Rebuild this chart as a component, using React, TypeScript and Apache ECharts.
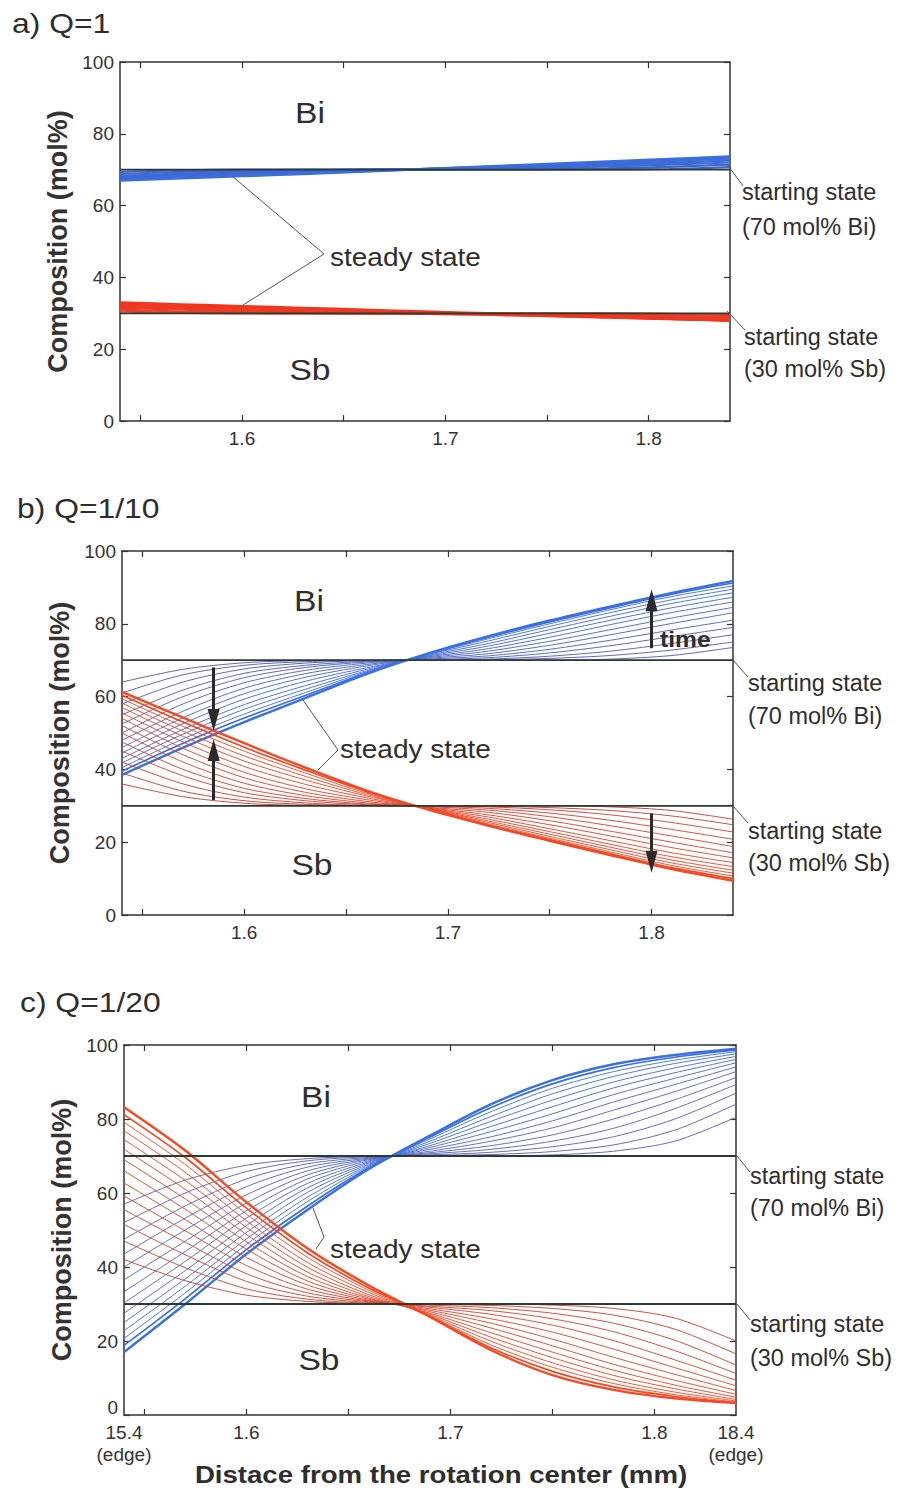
import React, { useEffect, useRef } from "react";
import * as echarts from "echarts";

// ---------- data ----------
const X = [1.54, 1.57, 1.6, 1.63, 1.66, 1.69, 1.72, 1.75, 1.78, 1.81, 1.84];
const START_X = [1.54, 1.84];
const START_BI = [70, 70];
const START_SB = [30, 30];

const X_TICKS = [1.55, 1.6, 1.65, 1.7, 1.75, 1.8];
const X_LABEL_VALUES = [1.6, 1.7, 1.8];
const X_LABEL_TEXTS = ["1.6", "1.7", "1.8"];
const X_LABEL_VALUES_C = [1.54, 1.6, 1.7, 1.8, 1.84];
const X_LABEL_TEXTS_C = ["15.4\n(edge)", "1.6", "1.7", "1.8", "18.4\n(edge)"];

const PANEL_TITLES = ["a) Q=1", "b) Q=1/10", "c) Q=1/20"];

// Q = 1
const BI_A = [
  [69.4, 69.85, 70, 70, 70, 70, 70, 70, 70.05, 70.2, 70.7],
  [68.8, 69.4, 69.8, 69.95, 70, 70, 70.05, 70.2, 70.4, 70.8, 71.4],
  [68.3, 68.9, 69.4, 69.8, 70, 70.15, 70.3, 70.5, 70.9, 71.4, 72],
  [67.9, 68.5, 69, 69.5, 69.9, 70.2, 70.5, 70.9, 71.4, 71.9, 72.6],
  [67.5, 68.1, 68.7, 69.2, 69.7, 70.2, 70.7, 71.2, 71.8, 72.4, 73.1],
  [67.2, 67.8, 68.4, 69, 69.6, 70.2, 70.8, 71.4, 72.1, 72.7, 73.4],
  [67, 67.6, 68.2, 68.8, 69.5, 70.2, 70.9, 71.6, 72.3, 73, 73.7],
];
const SB_A = [
  [30.5, 30.1, 30, 30, 30, 30, 30, 30, 29.97, 29.85, 29.5],
  [31, 30.5, 30.15, 30.03, 30, 30, 29.97, 29.85, 29.7, 29.4, 29],
  [31.5, 31, 30.5, 30.2, 30.03, 29.9, 29.8, 29.6, 29.35, 29, 28.6],
  [31.9, 31.4, 30.9, 30.5, 30.1, 29.85, 29.6, 29.3, 29, 28.6, 28.3],
  [32.3, 31.8, 31.3, 30.8, 30.4, 30, 29.6, 29.2, 28.8, 28.4, 28.1],
  [32.7, 32.2, 31.7, 31.2, 30.7, 30.25, 29.8, 29.35, 28.9, 28.45, 28],
  [33, 32.5, 32, 31.5, 31, 30.5, 30, 29.5, 29, 28.5, 27.9],
];

// Q = 1/10
const BI_B = [
  [64, 67.5, 69.3, 69.9, 70, 70, 70, 70, 70.3, 71.3, 73.5],
  [61, 66, 68.6, 69.6, 69.95, 70, 70.1, 70.5, 71.3, 72.8, 75],
  [58, 64, 67.6, 69.2, 69.9, 70, 70.3, 71.1, 72.5, 74.6, 77],
  [55, 61.8, 66.4, 68.6, 69.7, 70.1, 70.7, 72, 74, 76.5, 79],
  [52.5, 60, 65.2, 68, 69.5, 70.3, 71.2, 73, 75.5, 78.3, 81],
  [50, 58, 63.8, 67.2, 69.2, 70.5, 71.8, 74.1, 77, 80.1, 83],
  [48, 56, 62.3, 66.3, 68.8, 70.7, 72.5, 75.2, 78.4, 81.6, 84.5],
  [46, 54.2, 60.8, 65.3, 68.4, 70.9, 73.2, 76.3, 79.8, 83.1, 86],
  [44.5, 52.6, 59.3, 64.2, 67.9, 71.1, 73.9, 77.4, 81, 84.4, 87.3],
  [43, 51, 57.8, 63, 67.5, 71.3, 74.6, 78.4, 82.1, 85.6, 88.5],
  [41.8, 49.7, 56.5, 62, 67.1, 71.5, 75.3, 79.3, 83.1, 86.6, 89.5],
  [40.5, 48.4, 55.2, 61.1, 66.8, 71.6, 75.9, 80, 83.9, 87.5, 90.4],
  [39.5, 47.2, 54.1, 60.3, 66.5, 71.7, 76.3, 80.5, 84.4, 88.1, 91.2],
  [38.5, 46, 53, 59.6, 66.2, 71.8, 76.6, 80.9, 84.8, 88.5, 91.8],
];
const SB_B = [
  [36, 32.5, 30.7, 30.1, 30, 30, 30, 30, 29.7, 28.7, 26.3],
  [39, 34, 31.4, 30.4, 30.05, 30, 29.9, 29.5, 28.7, 27.2, 24.8],
  [42, 36, 32.4, 30.8, 30.1, 30, 29.7, 28.9, 27.5, 25.4, 22.8],
  [45, 38.2, 33.6, 31.4, 30.3, 29.9, 29.3, 28, 26, 23.5, 20.8],
  [47.5, 40, 34.8, 32, 30.5, 29.8, 28.8, 27, 24.5, 21.7, 18.8],
  [50, 42, 36.2, 32.8, 30.8, 29.6, 28.2, 25.9, 23, 20, 17.1],
  [52, 44, 37.7, 33.7, 31.2, 29.5, 27.5, 24.8, 21.7, 18.5, 15.7],
  [54, 45.8, 39.2, 34.7, 31.7, 29.4, 26.9, 23.7, 20.4, 17.1, 14.4],
  [55.5, 47.5, 40.8, 35.9, 32.2, 29.3, 26.3, 22.9, 19.4, 16, 13.3],
  [57, 49.1, 42.3, 37.1, 32.7, 29.3, 25.8, 22.2, 18.6, 15.1, 12.3],
  [58.2, 50.5, 43.7, 38.1, 33.1, 29.2, 25.4, 21.6, 17.9, 14.3, 11.5],
  [59.4, 51.8, 45, 39, 33.5, 29.2, 25, 21.1, 17.3, 13.6, 10.7],
  [60.4, 53, 46.1, 39.8, 33.9, 29.1, 24.7, 20.7, 16.8, 13, 10],
  [61.3, 54.2, 47.2, 40.5, 34.2, 29, 24.5, 20.4, 16.4, 12.6, 9.4],
];

// Q = 1/20
const BI_C = [
  [57, 63.5, 67.5, 69.3, 69.9, 70, 70, 70.3, 71.3, 74, 80.5],
  [52, 60, 65.8, 68.7, 69.8, 70.1, 70.4, 71.2, 73, 77, 84],
  [47.5, 56.5, 63.8, 67.9, 69.6, 70.3, 71, 72.5, 75.2, 80, 87],
  [43.5, 53.2, 61.7, 67, 69.4, 70.6, 71.8, 74, 77.5, 82.8, 89.3],
  [40, 50, 59.5, 66, 69.2, 70.9, 72.8, 75.7, 80, 85.2, 91.2],
  [36.5, 47, 57.3, 64.9, 69, 71.3, 74, 77.6, 82.4, 87.4, 92.8],
  [33.3, 44.2, 55.2, 63.8, 68.7, 71.8, 75.2, 79.5, 84.6, 89.3, 94.1],
  [30.3, 41.5, 53.2, 62.6, 68.4, 72.3, 76.6, 81.4, 86.6, 91, 95.2],
  [27.5, 39, 51.2, 61.4, 68.1, 72.8, 78, 83.3, 88.4, 92.5, 96.1],
  [25, 36.8, 49.3, 60.2, 67.8, 73.4, 79.4, 85.1, 90, 93.8, 96.9],
  [22.8, 34.8, 47.6, 58.9, 67.5, 74, 80.7, 86.8, 91.5, 95, 97.6],
  [20.7, 33, 46.1, 57.7, 67.2, 74.6, 82, 88.3, 92.8, 95.9, 98.2],
  [18.8, 31.4, 44.7, 56.5, 66.8, 75.1, 83.1, 89.5, 93.9, 96.7, 98.7],
  [17, 30, 43.5, 55.5, 66.5, 75.5, 84, 90.5, 94.8, 97.3, 99],
];
const SB_C = [
  [42, 36.3, 32.4, 30.7, 30.1, 30, 30, 29.7, 28.8, 26.2, 20],
  [47, 39.8, 34.1, 31.3, 30.2, 29.9, 29.6, 28.8, 27, 23.2, 16.5],
  [51.5, 43.3, 36.1, 32.1, 30.4, 29.7, 29, 27.5, 24.8, 20.2, 13.5],
  [55.5, 46.7, 38.2, 33, 30.6, 29.4, 28.2, 26, 22.5, 17.4, 11.2],
  [59.2, 49.8, 40.4, 34, 30.8, 29.1, 27.2, 24.3, 20.1, 14.9, 9.4],
  [62.7, 52.8, 42.6, 35.1, 31, 28.7, 26, 22.4, 17.8, 12.8, 7.9],
  [66, 55.6, 44.8, 36.2, 31.3, 28.3, 24.8, 20.5, 15.6, 11, 6.6],
  [69, 58.4, 46.8, 37.4, 31.6, 27.9, 23.5, 18.7, 13.7, 9.4, 5.6],
  [71.8, 61, 48.8, 38.6, 32, 27.5, 22.2, 17, 12.1, 8.1, 4.8],
  [74.4, 63.4, 50.7, 39.9, 32.5, 27.2, 21, 15.5, 10.7, 7.1, 4.2],
  [76.8, 65.6, 52.5, 41.2, 33.1, 26.9, 19.9, 14.1, 9.5, 6.2, 3.8],
  [79.1, 67.7, 54.3, 42.6, 33.7, 26.7, 18.9, 12.9, 8.5, 5.5, 3.5],
  [81.2, 69.6, 55.9, 43.8, 34.3, 26.6, 18.1, 11.8, 7.6, 5, 3.3],
  [83.2, 71.5, 57.5, 45, 35, 26.5, 17.5, 10.8, 6.8, 4.5, 3.2],
];

// arrows in panel b: [x, from, to(tip)]
const ARROWS_B = [
  [1.585, 68, 53.6],
  [1.585, 31.6, 45.3],
  [1.8, 73.3, 86.5],
  [1.8, 27.9, 14.6],
];

// ---------- styling helpers ----------
const FONT = '"Liberation Sans", Arial, Helvetica, sans-serif';
const INK = "#2e2e2e";
const AXIS = "#333";

function hex(c: string) {
  return [1, 3, 5].map((i) => parseInt(c.slice(i, i + 2), 16));
}
function mix(a: string, b: string, t: number) {
  const A = hex(a);
  const B = hex(b);
  const r = A.map((v, i) => Math.round(v + (B[i] - v) * t));
  return "#" + r.map((v) => v.toString(16).padStart(2, "0")).join("");
}

const GRIDS = [
  { left: 120, top: 62, width: 610, height: 359 },
  { left: 122, top: 551, width: 611, height: 364 },
  { left: 124, top: 1045, width: 612, height: 370 },
];

const PANELS = [
  { bi: BI_A, sb: SB_A, w: 2.2, last: 2.4, blue: ["#3e66cc", "#3a6ede"], red: ["#e8402a", "#f0361f"] },
  { bi: BI_B, sb: SB_B, w: 0.9, last: 2.4, blue: ["#4f55a6", "#3a70e2"], red: ["#bf3a2e", "#f44a24"] },
  { bi: BI_C, sb: SB_C, w: 0.9, last: 2.4, blue: ["#5a5cac", "#3a70e2"], red: ["#c0402f", "#f84a22"] },
];

function makeAxes(i: number) {
  const axisLine = { show: true, onZero: false, lineStyle: { color: AXIS, width: 1.5 } };
  const tick = { show: true, inside: true, length: 6, lineStyle: { color: AXIS, width: 1.2 } };
  const vals = i === 2 ? X_LABEL_VALUES_C : X_LABEL_VALUES;
  const texts = i === 2 ? X_LABEL_TEXTS_C : X_LABEL_TEXTS;
  const xb: any = {
    type: "value",
    gridIndex: i,
    position: "bottom",
    min: 1.54,
    max: 1.84,
    axisLine,
    splitLine: { show: false },
    axisTick: { ...tick, customValues: X_TICKS },
    axisLabel: {
      show: true,
      customValues: vals,
      formatter: (v: number) => {
        const k = vals.findIndex((u) => Math.abs(u - v) < 1e-6);
        return k >= 0 ? texts[k] : "";
      },
      fontSize: 19,
      lineHeight: 22,
      color: AXIS,
      margin: 6,
      fontFamily: FONT,
    },
  };
  const xt: any = {
    ...xb,
    position: "top",
    axisLabel: { show: false },
  };
  const yl: any = {
    type: "value",
    gridIndex: i,
    position: "left",
    min: 0,
    max: 100,
    interval: 20,
    axisLine,
    splitLine: { show: false },
    axisTick: tick,
    axisLabel: {
      show: true,
      fontSize: 19,
      color: AXIS,
      margin: 6,
      fontFamily: FONT,
      formatter: (v: number) => (i === 2 && v === 0 ? "{z|0}" : String(v)),
      rich: { z: { fontSize: 19, color: AXIS, fontFamily: FONT, padding: [0, 0, 16, 0] } },
    },
    name: "Composition (mol%)",
    nameLocation: "middle",
    nameRotate: 90,
    nameGap: 48,
    nameTextStyle: { fontSize: 27, fontWeight: "bold", color: AXIS, fontFamily: FONT },
  };
  const yr: any = {
    ...yl,
    position: "right",
    axisLabel: { show: false },
    name: "",
  };
  return { x: [xb, xt], y: [yl, yr] };
}

function familySeries(curves: number[][], i: number, c0: string, c1: string, w: number, last: number, z: number) {
  const n = curves.length;
  return curves.map((ys, k) => ({
    type: "line",
    xAxisIndex: i * 2,
    yAxisIndex: i * 2,
    data: X.map((x, j) => [x, ys[j]]),
    showSymbol: false,
    symbol: "none",
    smooth: 0.3,
    silent: true,
    z,
    lineStyle: {
      color: mix(c0, c1, n > 1 ? k / (n - 1) : 1),
      width: k === n - 1 ? last : k === n - 2 ? (w + last) / 2 : w,
    },
    emphasis: { disabled: true },
  }));
}

function startSeries(i: number, ys: number[], withArrows: boolean) {
  const s: any = {
    type: "line",
    xAxisIndex: i * 2,
    yAxisIndex: i * 2,
    data: START_X.map((x, j) => [x, ys[j]]),
    showSymbol: false,
    symbol: "none",
    silent: true,
    z: 5,
    lineStyle: { color: "#2c3a33", width: 1.8 },
    emphasis: { disabled: true },
  };
  if (withArrows) {
    s.markLine = {
      silent: true,
      symbol: ["none", "triangle"],
      symbolSize: [12, 22],
      label: { show: false },
      emphasis: { disabled: true },
      lineStyle: { color: "#2a2a2a", width: 3, type: "solid" },
      data: ARROWS_B.map((a) => [{ coord: [a[0], a[1]] }, { coord: [a[0], a[2]] }]),
    };
  }
  return s;
}

function text(t: string, x: number, y: number, size: number, opt: any = {}) {
  return {
    type: "text",
    x,
    y,
    scaleX: opt.sx ?? 1,
    silent: true,
    z: 10,
    style: {
      text: t,
      fill: INK,
      font: `${opt.bold ? "bold " : ""}${size}px ${FONT}`,
      align: opt.align ?? "left",
      verticalAlign: "middle",
    },
  };
}
function poly(points: number[][]) {
  return {
    type: "polyline",
    silent: true,
    z: 10,
    shape: { points },
    style: { stroke: "#555", lineWidth: 1, fill: null },
  };
}

function buildOption() {
  const xAxis: any[] = [];
  const yAxis: any[] = [];
  const series: any[] = [];
  GRIDS.forEach((_, i) => {
    const ax = makeAxes(i);
    xAxis.push(...ax.x);
    yAxis.push(...ax.y);
    const p = PANELS[i];
    series.push(...familySeries(p.bi, i, p.blue[0], p.blue[1], p.w, p.last, 2));
    series.push(...familySeries(p.sb, i, p.red[0], p.red[1], p.w, p.last, 3));
    series.push(startSeries(i, START_BI, false));
    series.push(startSeries(i, START_SB, i === 1));
  });

  const graphic: any[] = [
    // titles
    text(PANEL_TITLES[0], 12, 23, 27, { sx: 1.18 }),
    text(PANEL_TITLES[1], 17, 508, 27, { sx: 1.18 }),
    text(PANEL_TITLES[2], 20, 1002, 27, { sx: 1.18 }),
    // panel a
    text("Bi", 310, 113, 30, { align: "center", sx: 1.12 }),
    text("Sb", 310, 370, 30, { align: "center", sx: 1.12 }),
    text("steady state", 330, 258, 25, { sx: 1.12 }),
    poly([[232, 176], [324, 254], [243, 305]]),
    text("starting state", 742, 192, 23, { sx: 1.02 }),
    text("(70 mol% Bi)", 742, 227, 23, { sx: 1.02 }),
    text("starting state", 744, 337, 23, { sx: 1.02 }),
    text("(30 mol% Sb)", 744, 369, 23, { sx: 1.02 }),
    poly([[727, 164], [743, 186]]),
    poly([[727, 311], [745, 330]]),
    // panel b
    text("Bi", 309, 601, 30, { align: "center", sx: 1.12 }),
    text("Sb", 312, 865, 30, { align: "center", sx: 1.12 }),
    text("steady state", 340, 750, 25, { sx: 1.12 }),
    poly([[303, 700], [338, 750], [318, 770]]),
    text("time", 660, 639, 22, { bold: true, sx: 1.12 }),
    text("starting state", 748, 683, 23, { sx: 1.02 }),
    text("(70 mol% Bi)", 748, 716, 23, { sx: 1.02 }),
    text("starting state", 748, 831, 23, { sx: 1.02 }),
    text("(30 mol% Sb)", 748, 863, 23, { sx: 1.02 }),
    poly([[733, 660], [748, 677]]),
    poly([[733, 806], [748, 823]]),
    // panel c
    text("Bi", 316, 1097, 30, { align: "center", sx: 1.12 }),
    text("Sb", 319, 1360, 30, { align: "center", sx: 1.12 }),
    text("steady state", 330, 1250, 25, { sx: 1.12 }),
    poly([[313, 1208], [324, 1237], [316, 1249]]),
    text("starting state", 750, 1176, 23, { sx: 1.02 }),
    text("(70 mol% Bi)", 750, 1208, 23, { sx: 1.02 }),
    text("starting state", 750, 1324, 23, { sx: 1.02 }),
    text("(30 mol% Sb)", 750, 1358, 23, { sx: 1.02 }),
    poly([[737, 1156], [750, 1172]]),
    poly([[737, 1304], [750, 1320]]),
    // x axis title
    text("Distace from the rotation center (mm)", 441, 1475, 24, { bold: true, align: "center", sx: 1.15 }),
  ];

  return {
    animation: false,
    backgroundColor: "#ffffff",
    textStyle: { fontFamily: FONT },
    grid: GRIDS.map((g) => ({ ...g, containLabel: false })),
    xAxis,
    yAxis,
    series,
    graphic,
  };
}

export default function App() {
  const ref = useRef<HTMLDivElement>(null);
  useEffect(() => {
    if (!ref.current) return;
    const chart = echarts.init(ref.current, undefined, { renderer: "svg" });
    chart.setOption(buildOption() as any);
    return () => chart.dispose();
  }, []);
  return (
    <div
      ref={ref}
      style={{ position: "absolute", left: 0, top: 0, width: 897, height: 1491, background: "#fff" }}
    />
  );
}
